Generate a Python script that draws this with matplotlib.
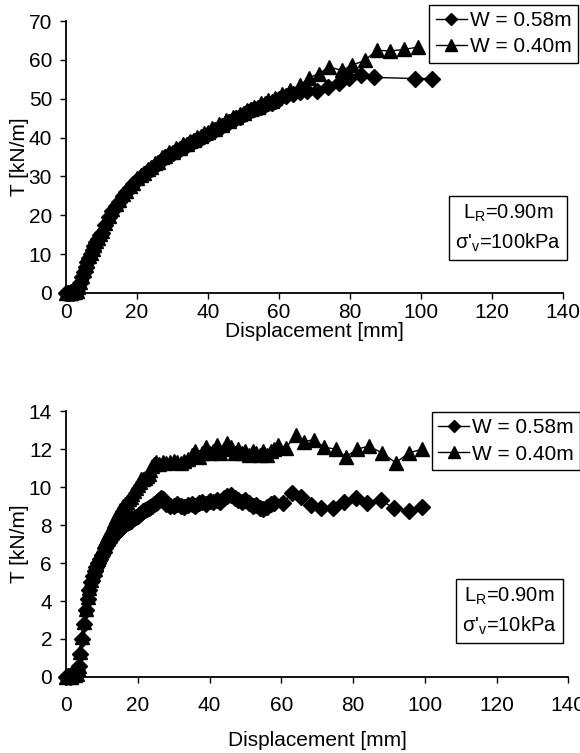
import matplotlib
matplotlib.use("Agg")
import matplotlib.pyplot as plt

plt.rcParams['font.family'] = ['Liberation Sans', 'DejaVu Sans']
plt.rcParams['mathtext.default'] = 'regular'

# ---- top panel: sigma'v = 100 kPa ----
top_d_x = [0, 0.5, 1, 1.5, 2, 2.5, 3, 3.5, 4, 4.5, 5, 5.5, 6, 6.5, 7, 7.5, 8, 8.5, 9, 9.5,
           10, 11, 12, 13, 14, 15, 16, 17, 18, 19, 20, 21, 22, 23, 24, 25, 26, 27, 28, 29,
           30, 31, 32, 33, 34, 35, 36, 37, 38, 39, 40, 41, 42, 43, 44, 45, 46, 47, 48, 49,
           50, 51, 52, 53, 54, 55, 56, 57, 58, 59, 60, 62, 64, 66, 68,
           70.7, 73.8, 76.8, 79.8, 83, 86.8, 98.3, 103]
top_d_T = [0, 0.1, 0, 0.2, 0.1, 0.3, 0.2, 1.2, 2.5, 4, 5.5, 6.8, 8, 9, 10, 11, 12, 13, 14, 14.8,
           15.5, 17.5, 19.5, 21, 22.5, 23.5, 25, 26, 27, 28, 29, 29.8, 30.5, 31.3, 32, 32.8, 33.5, 34.2, 35, 35.5,
           36, 36.6, 37, 37.6, 38, 38.5, 39, 39.4, 40, 40.4, 41, 41.5, 42, 42.5, 43, 43.5, 44, 44.4, 45, 45.4,
           46, 46.5, 47, 47.3, 47.5, 48, 48.5, 48.8, 49, 49.5, 50, 50.8, 51.3, 51.8, 52.1,
           52, 53, 54, 55.3, 56.2, 55.5, 55.2, 55.2]

top_t_x = [0, 0.5, 1, 1.5, 2, 2.5, 3, 3.5, 4, 4.5, 5, 5.5, 6, 6.5, 7, 7.5, 8, 8.5, 9, 9.5,
           10, 11, 12, 13, 14, 15, 16, 17, 18, 19, 20, 21, 22, 23, 24, 25, 26, 27, 28, 29,
           30, 31, 32, 33, 34, 35, 36, 37, 38, 39, 40, 41, 42, 43, 44, 45, 46, 47, 48, 49,
           50, 51, 52, 53, 54, 55, 56, 57, 58, 59,
           60.8, 63.1, 65.9, 68.5, 71.3, 74.1, 77.7, 80.5, 84.2, 87.5, 91.3, 95.2, 99.2]
top_t_T = [0, 0.2, 0.1, 0, 0.3, 0.2, 0.4, 1.4, 2.7, 4.3, 5.8, 7.1, 8.3, 9.4, 10.3, 11.4, 12.3, 13.4, 14.2, 15.2,
           16, 18, 19.8, 21.5, 22.8, 24, 25.6, 26.3, 27.5, 28.2, 29.5, 30.4, 30.8, 32, 32.4, 33.5, 33.8, 35, 35.2, 36.2,
           36.4, 37.4, 37.3, 38.4, 38.3, 39.2, 39.3, 40.2, 40.3, 41.2, 41.4, 42.4, 42.3, 43.4, 43.2, 44.4, 44.3, 45.3, 45.3, 46.2,
           46.3, 47.2, 47.3, 48, 47.9, 48.8, 48.8, 49.6, 49.4, 50.3,
           51.3, 52.2, 53.5, 55.4, 56.5, 58.2, 57.3, 58.6, 59.9, 62.5, 62.3, 62.7, 63.3]

# ---- bottom panel: sigma'v = 10 kPa ----
bot_d_x = [0, 0.5, 1, 1.5, 2, 2.5, 3, 3.5, 4, 4.5, 5, 5.5, 6, 6.5, 7, 7.5, 8, 8.5, 9, 9.5,
           10, 10.5, 11, 11.5, 12, 12.5, 13, 13.5, 14, 14.5, 15, 15.5, 16, 16.5, 17, 17.5, 18, 18.5, 19, 19.5,
           20, 20.5, 21, 21.5, 22, 22.5, 23, 23.5, 24, 24.5, 25, 25.5, 26, 26.5, 27, 27.5, 28, 29, 30, 31,
           32, 33, 34, 35, 36, 37, 38, 39, 40, 41, 42, 43, 44, 45, 46, 47, 48, 49, 50, 51,
           52, 53, 54, 55, 56, 57, 58,
           60.4, 63.1, 65.5, 68.2, 71, 74.3, 77.5, 80.7, 83.9, 87.7, 91.4, 95.6, 99.3]
bot_d_T = [0, 0.05, 0, 0.1, 0.05, 0.1, 0.1, 0.6, 1.2, 2, 2.8, 3.5, 4.1, 4.6, 5, 5.3, 5.6, 5.8, 6, 6.2,
           6.4, 6.6, 6.8, 6.95, 7.1, 7.25, 7.4, 7.5, 7.6, 7.7, 7.8, 7.9, 8, 8.05, 8.1, 8.15, 8.2, 8.3, 8.35, 8.45,
           8.5, 8.6, 8.65, 8.75, 8.8, 8.85, 8.9, 8.95, 9, 9.1, 9.15, 9.2, 9.3, 9.4, 9.35, 9.2, 9.1, 9, 9, 9.1,
           9, 8.95, 9.05, 9.1, 9, 9.15, 9.2, 9.1, 9.25, 9.2, 9.3, 9.2, 9.4, 9.55, 9.6, 9.4, 9.3, 9.2, 9.3, 9.15,
           9, 9.05, 8.9, 8.85, 8.95, 9.1, 9.15,
           9.14, 9.67, 9.49, 9.05, 8.88, 8.88, 9.23, 9.4, 9.14, 9.32, 8.88, 8.75, 8.96]

bot_t_x = [0, 0.5, 1, 1.5, 2, 2.5, 3, 3.5, 4, 4.5, 5, 5.5, 6, 6.5, 7, 7.5, 8, 8.5, 9, 9.5,
           10, 10.5, 11, 11.5, 12, 12.5, 13, 13.5, 14, 14.5, 15, 15.5, 16, 16.5, 17, 17.5, 18, 18.5, 19, 19.5,
           20, 20.5, 21, 21.5, 22, 22.5, 23, 23.5, 24, 24.5, 25, 26, 27, 28, 29, 30, 31, 32, 33, 34,
           35, 36, 37, 38, 39, 40, 41, 42, 43, 44, 45, 46, 47, 48, 49, 50, 51, 52, 53, 54,
           55, 56, 57, 58, 59,
           61.3, 64.1, 66.4, 69.2, 71.9, 75.2, 78, 81.2, 84.4, 88.1, 91.9, 95.6, 99.3]
bot_t_T = [0, 0.1, 0.05, 0, 0.1, 0.1, 0.15, 0.6, 1.3, 2.1, 2.9, 3.6, 4.2, 4.7, 5.1, 5.4, 5.7, 6, 6.2, 6.5,
           6.7, 6.95, 7.2, 7.4, 7.6, 7.8, 8, 8.2, 8.4, 8.6, 8.8, 8.9, 9, 9.1, 9.2, 9.35, 9.5, 9.65, 9.8, 9.95,
           10.1, 10.25, 10.4, 10.45, 10.5, 10.6, 10.7, 10.9, 11.1, 11.2, 11.3, 11.2, 11.3, 11.25, 11.3, 11.4, 11.3, 11.25, 11.4, 11.5,
           11.7, 11.9, 11.6, 11.8, 12.1, 11.8, 11.9, 12.2, 11.8, 12, 12.3, 12.1, 11.8, 12, 11.8, 11.9, 11.7, 11.9, 11.8, 11.7,
           11.9, 11.7, 11.9, 12, 12.2,
           12.07, 12.74, 12.4, 12.5, 12.1, 12.0, 11.6, 12.0, 12.16, 11.8, 11.28, 11.8, 12.0]

x_ticks = [0, 20, 40, 60, 80, 100, 120, 140]
labels = ["W = 0.58m", "W = 0.40m"]

fig = plt.figure(figsize=(5.8, 7.53), dpi=100)
ax1 = fig.add_axes([0.1138, 0.611, 0.857, 0.361])
ax2 = fig.add_axes([0.1138, 0.101, 0.866, 0.353])

FS = 15


def style_axis(ax, ymax, ystep):
    ax.set_xlim(0, 140)
    ax.set_ylim(0, ymax)
    ax.set_xticks(x_ticks)
    ax.set_yticks(range(0, ymax + 1, ystep))
    for s in ["top", "right"]:
        ax.spines[s].set_visible(False)
    for s in ["left", "bottom"]:
        ax.spines[s].set_linewidth(1.3)
    ax.tick_params(direction="out", length=4, width=1, labelsize=FS, pad=3)
    ax.tick_params(axis="y", pad=6)
    ax.set_ylabel("T [kN/m]", fontsize=FS, labelpad=0)


def draw(ax, dx, dT, tx, tT):
    ax.plot(dx, dT, color="black", lw=1, marker="D", ms=8, mfc="black", mec="black",
            label=labels[0], clip_on=False)
    ax.plot(tx, tT, color="black", lw=1, marker="^", ms=10.5, mfc="black", mec="black",
            label=labels[1], clip_on=False)


def add_legend(ax, anchor):
    leg = ax.legend(loc="upper right", bbox_to_anchor=anchor, borderaxespad=0,
                    fontsize=FS, handlelength=1.5, handletextpad=0.15, borderpad=0.3,
                    labelspacing=0.35, fancybox=False, framealpha=1, markerscale=0.8)
    leg.get_frame().set_edgecolor("black")
    leg.get_frame().set_linewidth(1)


draw(ax1, top_d_x, top_d_T, top_t_x, top_t_T)
style_axis(ax1, 70, 10)
ax1.set_xlabel("Displacement [mm]", fontsize=FS, labelpad=0)
add_legend(ax1, (1.03, 1.06))
ax1.text(0.89, 0.239, "L$_R$=0.90m\nσ'$_v$=100kPa", transform=ax1.transAxes,
         ha="center", va="center", fontsize=FS - 0.5, linespacing=1.45,
         bbox=dict(boxstyle="square,pad=0.3", fc="white", ec="black", lw=1))

draw(ax2, bot_d_x, bot_d_T, bot_t_x, bot_t_T)
style_axis(ax2, 14, 2)
ax2.tick_params(axis="x", pad=10)
ax2.set_xlabel("Displacement [mm]", fontsize=FS, labelpad=11)
add_legend(ax2, (1.024, 0.996))
ax2.text(0.883, 0.248, "L$_R$=0.90m\nσ'$_v$=10kPa", transform=ax2.transAxes,
         ha="center", va="center", fontsize=FS - 0.5, linespacing=1.45,
         bbox=dict(boxstyle="square,pad=0.3", fc="white", ec="black", lw=1))

fig.savefig("out.png", dpi=100)
